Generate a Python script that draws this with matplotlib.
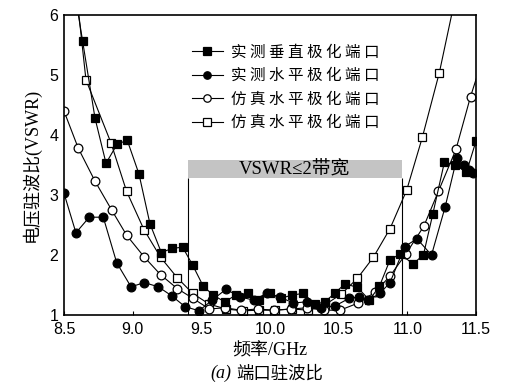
import matplotlib
matplotlib.use("Agg")
import matplotlib.pyplot as plt
from matplotlib.patches import Rectangle

# ---------------- data ----------------
fs_x = [8.556, 8.636, 8.726, 8.806, 8.888, 8.961, 9.046, 9.126, 9.209, 9.286, 9.364, 9.437,
        9.514, 9.587, 9.67, 9.75, 9.84, 9.92, 10.0, 10.08, 10.158, 10.24, 10.33, 10.40, 10.47,
        10.546, 10.636, 10.724, 10.797, 10.874, 10.95, 11.04, 11.117, 11.185, 11.27, 11.35,
        11.43, 11.5]
fs_y = [6.7, 5.56, 4.28, 3.53, 3.85, 3.91, 3.35, 2.52, 2.04, 2.11, 2.13, 1.83,
        1.48, 1.33, 1.22, 1.33, 1.36, 1.25, 1.36, 1.28, 1.33, 1.36, 1.18, 1.22, 1.36,
        1.52, 1.46, 1.25, 1.48, 1.92, 2.02, 1.85, 2.0, 2.68, 3.55, 3.5,
        3.38, 3.9]

fc_x = [8.5, 8.587, 8.684, 8.786, 8.884, 8.988, 9.085, 9.187, 9.284, 9.381, 9.483, 9.58,
        9.68, 9.78, 9.88, 9.976, 10.07, 10.17, 10.27, 10.37, 10.473, 10.578, 10.65, 10.716,
        10.80, 10.874, 10.98, 11.07, 11.176, 11.275, 11.36, 11.41, 11.45, 11.48]
fc_y = [3.03, 2.37, 2.63, 2.63, 1.87, 1.47, 1.54, 1.47, 1.32, 1.14, 1.07, 1.25,
        1.43, 1.3, 1.25, 1.36, 1.3, 1.2, 1.22, 1.12, 1.15, 1.28, 1.3, 1.25,
        1.36, 1.54, 2.14, 2.27, 2.0, 2.8, 3.61, 3.5, 3.42, 3.36]

oc_x = [8.5, 8.604, 8.726, 8.847, 8.956, 9.083, 9.204, 9.325, 9.437, 9.558, 9.67, 9.79,
        9.91, 10.03, 10.15, 10.27, 10.39, 10.51, 10.643, 10.765, 10.874, 10.99, 11.12,
        11.226, 11.354, 11.46, 11.58]
oc_y = [4.4, 3.78, 3.23, 2.75, 2.33, 1.97, 1.67, 1.44, 1.28, 1.1, 1.12, 1.08,
        1.1, 1.08, 1.1, 1.12, 1.08, 1.08, 1.2, 1.38, 1.65, 2.02, 2.48,
        3.06, 3.76, 4.64, 5.5]

os_x = [8.58, 8.66, 8.842, 8.956, 9.083, 9.204, 9.325, 9.437, 9.558, 9.68, 9.8, 9.92,
        10.04, 10.16, 10.28, 10.40, 10.52, 10.636, 10.752, 10.874, 10.995, 11.109, 11.233,
        11.35]
os_y = [6.6, 4.92, 3.87, 3.06, 2.42, 1.96, 1.62, 1.36, 1.18, 1.1, 1.07, 1.08,
        1.08, 1.1, 1.08, 1.17, 1.35, 1.61, 1.96, 2.44, 3.08, 3.96, 5.04,
        6.3]

labels = ["实测垂直极化端口", "实测水平极化端口", "仿真水平极化端口", "仿真水平极化端口"]
band_x = [9.40, 10.96]
band_y = [3.28, 3.58]
band_text = "VSWR≤2带宽"
xticks = [8.5, 9.0, 9.5, 10.0, 10.5, 11.0, 11.5]
xticklabels = ["8.5", "9.0", "9.5", "10.0", "10.5", "11.0", "11.5"]
yticks = [1, 2, 3, 4, 5, 6]

# ---------------- figure ----------------
CJK = "Noto Sans CJK SC"
SERIF = ["Liberation Serif", CJK]

fig = plt.figure(figsize=(5.07, 3.84), dpi=100)
ax = fig.add_axes([0.1262, 0.1797, 0.9389 - 0.1262, 0.9609 - 0.1797])

ms = 6.3
kw = dict(color="black", lw=0.8, markersize=ms, markeredgewidth=0.9, markeredgecolor="black")
h4, = ax.plot(os_x, os_y, marker="s", markerfacecolor="white", **kw)
h3, = ax.plot(oc_x, oc_y, marker="o", markerfacecolor="white", **kw)
h2, = ax.plot(fc_x, fc_y, marker="o", markerfacecolor="black", **kw)
h1, = ax.plot(fs_x, fs_y, marker="s", markerfacecolor="black", **kw)

# bandwidth annotation
ax.add_patch(Rectangle((band_x[0], band_y[0]), band_x[1] - band_x[0], band_y[1] - band_y[0],
                       facecolor="#c4c4c4", edgecolor="none", zorder=1))
ax.vlines(band_x, 1, band_y[0], color="black", lw=0.8, zorder=1)
ax.text(sum(band_x) / 2, sum(band_y) / 2, band_text, ha="center", va="center",
        fontsize=13.5, family=SERIF, zorder=2)

ax.set_xlim(8.5, 11.5)
ax.set_ylim(1, 6)
ax.set_xticks(xticks)
ax.set_xticklabels(xticklabels)
ax.set_yticks(yticks)
ax.tick_params(axis="x", direction="in", length=3, width=0.8, pad=5, labelsize=11.5)
ax.tick_params(axis="y", direction="in", length=0, pad=4, labelsize=11.5)
for lab in ax.get_xticklabels() + ax.get_yticklabels():
    lab.set_family("Liberation Sans")
for sp in ax.spines.values():
    sp.set_linewidth(1.2)

ax.set_ylabel("电压驻波比(VSWR)", family=SERIF, fontsize=13, labelpad=6)
ax.set_xlabel("频率/GHz", family=SERIF, fontsize=13, labelpad=4)
fig.text(0.457, 0.028, "(a)", ha="right", va="center",
         family="Liberation Serif", style="italic", fontsize=13)
fig.text(0.466, 0.028, "端口驻波比", ha="left", va="center",
         family=CJK, fontsize=12.5)

leg = ax.legend([h1, h2, h3, h4], [" ".join(l) for l in labels],
                loc="upper left", bbox_to_anchor=(0.295, 0.925), frameon=False,
                prop={"family": CJK, "size": 11.2}, handlelength=2.0,
                handletextpad=0.55, labelspacing=0.42, borderaxespad=0, markerscale=0.85)

fig.savefig("out.png", dpi=100)
